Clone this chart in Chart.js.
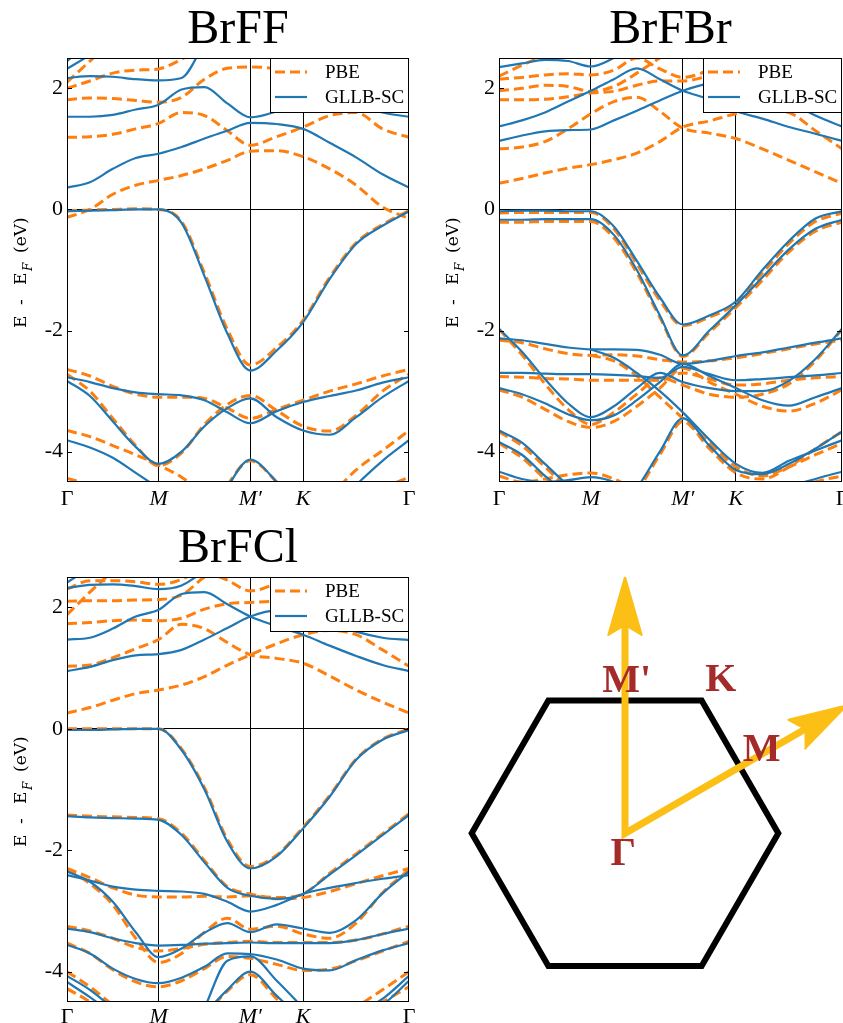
<!DOCTYPE html>
<html lang="en">
<head>
<meta charset="UTF-8">
<title>BrFX band structures</title>
<script src="https://cdn.jsdelivr.net/npm/chart.js"></script>
<style>
  body { margin: 0; background: #fff; width: 843px; height: 1023px; overflow: hidden; position: relative; }
  .panel { position: absolute; }
  canvas { display: block; }
</style>
</head>
<body>
<div class="panel" style="left:0;top:0;width:420px;height:512px"><canvas id="brff" width="420" height="512"></canvas></div>
<div class="panel" style="left:420px;top:0;width:423px;height:512px"><canvas id="brfbr" width="423" height="512"></canvas></div>
<div class="panel" style="left:0;top:519px;width:420px;height:504px"><canvas id="brfcl" width="420" height="504"></canvas></div>
<div class="panel" style="left:430px;top:560px;width:413px;height:463px"><canvas id="bz" width="413" height="463"></canvas></div>

<script>
const SERIF = "'Liberation Serif', 'Times New Roman', serif";
const LABEL_SERIF = "'DejaVu Serif', serif";
const ORANGE = '#ff7f0e';
const BLUE = '#1f77b4';

// k path: Γ - M - M' - K - Γ
const K_POINTS = [0, 0.25, 0.5, 0.75, 1, 1.25, 1.5, 1.75, 2, 2.289, 2.577, 2.866, 3.155, 3.443, 3.732];
const X_TICKS = [0, 1, 2, 2.577, 3.732];
const X_LABELS = ['Γ', 'M', 'M′', 'K', 'Γ'];
const Y_TICKS = [-4, -2, 0, 2];
const SERIES = ['PBE', 'GLLB-SC'];

// BrFF
const BRFF_PBE = [
  [-0.13, 0.00, 0.25, 0.40, 0.48, 0.56, 0.67, 0.81, 0.96, 0.97, 0.87, 0.67, 0.40, 0.04, -0.15],
  [1.19, 1.20, 1.24, 1.33, 1.42, 1.60, 1.55, 1.30, 1.06, 1.20, 1.36, 1.55, 1.60, 1.33, 1.19],
  [1.81, 1.84, 1.83, 1.80, 1.77, 1.85, 2.15, 2.33, 2.35, 2.32, 2.20, 2.05, 1.92, 1.85, 1.81],
  [2.00, 2.12, 2.25, 2.30, 2.32, 2.48, 2.70],
  [2.10, 2.45, 2.80],
  [-0.02, -0.01, 0, 0.01, 0, -0.20, -1.05, -1.98, -2.57, -2.28, -1.83, -1.12, -0.55, -0.25, -0.02],
  [-2.64, -2.75, -2.92, -3.05, -3.10, -3.10, -3.12, -3.28, -3.45, -3.30, -3.15, -3.00, -2.88, -2.75, -2.64],
  [-2.72, -3.00, -3.45, -3.90, -4.23, -4.02, -3.55, -3.22, -3.07, -3.32, -3.58, -3.66, -3.40, -3.00, -2.72],
  [-3.65, -3.75, -3.90, -4.05, -4.22, -4.42, -4.70, null, null, null, null, -4.75, -4.30, -3.98, -3.65],
  [null, null, null, null, null, null, -5.2, -4.55, -4.15, -4.50, -5.0],
  [-4.44, -4.55, -4.75, null, null, null, null, null, null, null, null, null, null, -4.60, -4.42]
];
const BRFF_GLLB = [
  [0.36, 0.45, 0.67, 0.85, 0.92, 1.03, 1.17, 1.30, 1.43, 1.41, 1.33, 1.10, 0.86, 0.58, 0.36],
  [1.53, 1.53, 1.56, 1.65, 1.73, 1.98, 2.02, 1.75, 1.52, 1.62, 1.80, 1.85, 1.75, 1.60, 1.53],
  [2.17, 2.20, 2.19, 2.15, 2.13, 2.17, 2.75],
  [2.32, 2.55, 2.80],
  [2.45, 2.75],
  [-0.03, -0.02, -0.01, 0, 0, -0.22, -1.10, -2.05, -2.66, -2.33, -1.86, -1.15, -0.57, -0.27, -0.03],
  [-2.77, -2.85, -2.95, -3.02, -3.05, -3.07, -3.15, -3.35, -3.53, -3.33, -3.18, -3.08, -2.99, -2.86, -2.77],
  [-2.83, -3.08, -3.50, -3.92, -4.20, -4.00, -3.58, -3.28, -3.12, -3.43, -3.65, -3.72, -3.43, -3.10, -2.83],
  [-3.81, -3.93, -4.10, -4.35, -4.60, -4.85, null, null, null, null, null, -5.0, -4.55, -4.15, -3.81],
  [null, null, null, null, null, null, -5.2, -4.58, -4.13, -4.50, -5.0],
  [-4.58, -4.75, -5.0, null, null, null, null, null, null, null, null, null, null, -4.75, -4.58]
];

// BrFBr
const BRFBR_PBE = [
  [0.43, 0.51, 0.60, 0.68, 0.74, 0.82, 0.93, 1.12, 1.36, 1.46, 1.58, 1.65, 1.60, 1.30, 1.00],
  [1.00, 1.03, 1.12, 1.33, 1.58, 1.78, 1.85, 1.62, 1.34, 1.26, 1.17, 1.00, 0.81, 0.62, 0.43],
  [1.81, 1.81, 1.82, 1.86, 1.92, 1.95, 2.05, 2.12, 2.12, 2.20, 2.25, 2.20, 2.10, 1.95, 1.81],
  [1.96, 2.00, 2.05, 2.03, 1.95, 2.03, 2.25, 2.50, 2.70],
  [2.15, 2.18, 2.22, 2.24, 2.22, 2.30, 2.50, 2.32, 2.18, 2.30, 2.50],
  [2.20, 2.38, 2.55],
  [-0.06, -0.05, -0.05, -0.05, -0.05, -0.32, -0.90, -1.50, -1.92, -1.78, -1.55, -1.05, -0.56, -0.20, -0.06],
  [-0.21, -0.21, -0.20, -0.20, -0.20, -0.47, -1.05, -1.78, -2.43, -2.03, -1.62, -1.17, -0.70, -0.36, -0.21],
  [-2.16, -2.20, -2.30, -2.38, -2.41, -2.40, -2.42, -2.48, -2.52, -2.50, -2.45, -2.38, -2.30, -2.22, -2.16],
  [-1.98, -2.40, -2.88, -3.30, -3.55, -3.35, -3.05, -2.78, -2.90, -3.05, -3.10, -3.05, -2.88, -2.50, -1.98],
  [-2.76, -2.77, -2.79, -2.80, -2.82, -2.82, -2.82, -2.82, -2.70, -2.80, -2.90, -2.88, -2.82, -2.78, -2.76],
  [-2.98, -3.10, -3.30, -3.50, -3.60, -3.50, -3.25, -2.95, -2.62, -2.85, -3.05, -3.25, -3.33, -3.20, -2.98],
  [-3.67, -3.90, -4.25, -4.60, -4.85],
  [-3.86, -4.10, -4.45, -4.75],
  [-4.40, -4.50, -4.45, -4.38, -4.35, -4.45, -4.65],
  [null, null, null, null, null, -5.0, -4.65, -4.05, -3.50, -3.95, -4.35, -4.45, -4.25, -3.95, -3.67],
  [null, null, null, null, -2.41, -2.50, -2.75, -3.10, -3.45, -3.85, -4.25, -4.40, -4.25, -4.05, -3.86],
  [null, null, null, null, null, null, null, null, null, null, null, -5.0, -4.70, -4.50, -4.40]
];
const BRFBR_GLLB = [
  [1.13, 1.22, 1.29, 1.31, 1.32, 1.47, 1.63, 1.80, 1.96, 2.08, 2.12, 1.98, 1.78, 1.55, 1.37],
  [1.37, 1.47, 1.60, 1.78, 1.96, 2.15, 2.33, 2.15, 1.96, 1.82, 1.62, 1.50, 1.36, 1.25, 1.13],
  [2.35, 2.41, 2.47, 2.45, 2.36, 2.50, 2.70],
  [-0.03, -0.02, -0.02, -0.03, -0.03, -0.28, -0.85, -1.45, -1.90, -1.75, -1.52, -1.00, -0.52, -0.15, -0.03],
  [-0.17, -0.17, -0.16, -0.16, -0.16, -0.42, -1.00, -1.75, -2.41, -2.00, -1.58, -1.12, -0.66, -0.32, -0.17],
  [-2.13, -2.16, -2.22, -2.28, -2.31, -2.31, -2.32, -2.40, -2.55, -2.50, -2.42, -2.36, -2.28, -2.20, -2.13],
  [-1.97, -2.35, -2.80, -3.20, -3.43, -3.25, -2.95, -2.70, -2.85, -2.95, -3.00, -3.00, -2.83, -2.47, -1.97],
  [-2.70, -2.70, -2.71, -2.72, -2.72, -2.73, -2.75, -2.78, -2.60, -2.72, -2.82, -2.80, -2.77, -2.74, -2.70],
  [-2.95, -3.05, -3.20, -3.38, -3.48, -3.40, -3.15, -2.85, -2.55, -2.75, -2.95, -3.15, -3.24, -3.10, -2.95],
  [-3.65, -3.85, -4.20, -4.55, -4.80],
  [-3.84, -4.05, -4.40, -4.70],
  [-4.33, -4.45, -4.50, -4.47, -4.42, -4.50, -4.70],
  [null, null, null, null, null, -5.0, -4.60, -4.00, -3.45, -3.90, -4.30, -4.37, -4.20, -3.95, -3.67],
  [null, null, null, null, -2.31, -2.45, -2.70, -3.00, -3.35, -3.80, -4.20, -4.35, -4.15, -3.98, -3.81],
  [null, null, null, null, null, null, null, null, null, null, null, -4.90, -4.60, -4.45, -4.33]
];

// BrFCl
const BRFCL_PBE = [
  [0.26, 0.35, 0.47, 0.58, 0.64, 0.72, 0.86, 1.05, 1.22, 1.40, 1.55, 1.62, 1.55, 1.30, 1.03],
  [1.03, 1.05, 1.17, 1.32, 1.47, 1.72, 1.65, 1.42, 1.22, 1.16, 1.08, 0.87, 0.64, 0.44, 0.26],
  [1.73, 1.75, 1.78, 1.79, 1.78, 1.82, 1.97, 2.06, 2.08, 2.10, 2.00, 1.90, 1.82, 1.76, 1.73],
  [2.10, 2.11, 2.11, 2.12, 2.13, 2.20, 2.50, 2.70],
  [1.88, 2.25, 2.60],
  [2.30, 2.44, 2.44, 2.42, 2.38, 2.46, 2.70],
  [null, null, null, null, null, null, 2.60, 2.45, 2.27, 2.40, 2.60],
  [0, 0, 0, 0, 0, -0.33, -0.97, -1.82, -2.27, -2.08, -1.62, -1.10, -0.50, -0.17, 0],
  [-1.42, -1.44, -1.45, -1.46, -1.48, -1.72, -2.17, -2.60, -2.72, -2.78, -2.72, -2.38, -2.06, -1.73, -1.40],
  [-2.30, -2.45, -2.62, -2.74, -2.77, -2.77, -2.76, -2.77, -2.75, -2.80, -2.78, -2.68, -2.55, -2.42, -2.30],
  [-2.32, -2.55, -2.90, -3.45, -3.85, -3.70, -3.35, -3.12, -3.30, -3.25, -3.38, -3.45, -3.20, -2.70, -2.32],
  [-3.25, -3.33, -3.45, -3.60, -3.66, -3.62, -3.55, -3.52, -3.50, -3.52, -3.52, -3.52, -3.48, -3.38, -3.25],
  [-3.53, -3.70, -3.97, -4.17, -4.25, -4.15, -3.95, -3.75, -3.78, -3.88, -3.98, -3.96, -3.82, -3.66, -3.50],
  [-4.00, -4.25, -4.55],
  [-4.28, -4.50, -4.80],
  [null, null, null, null, null, null, -4.72, -4.32, -4.05, -4.45, -4.85],
  [null, null, null, null, null, null, null, null, null, null, null, -5.0, -4.60, -4.30, -4.00],
  [null, null, null, null, null, null, null, null, null, null, null, -5.1, -4.75, -4.50, -4.25]
];
const BRFCL_GLLB = [
  [0.95, 1.02, 1.13, 1.21, 1.23, 1.30, 1.47, 1.66, 1.85, 1.95, 1.95, 1.75, 1.60, 1.50, 1.46],
  [1.47, 1.50, 1.65, 1.85, 1.96, 2.22, 2.25, 2.05, 1.85, 1.69, 1.55, 1.37, 1.20, 1.05, 0.95],
  [2.32, 2.37, 2.38, 2.35, 2.30, 2.36, 2.60],
  [2.41, 2.65],
  [-0.02, -0.02, -0.01, 0, 0, -0.35, -1.00, -1.86, -2.30, -2.10, -1.64, -1.12, -0.51, -0.18, -0.02],
  [-1.44, -1.46, -1.47, -1.48, -1.50, -1.75, -2.20, -2.62, -2.75, -2.80, -2.72, -2.40, -2.08, -1.75, -1.42],
  [-2.41, -2.50, -2.60, -2.65, -2.67, -2.68, -2.72, -2.85, -3.01, -2.90, -2.72, -2.62, -2.54, -2.47, -2.41],
  [-2.35, -2.52, -2.85, -3.35, -3.76, -3.62, -3.36, -3.20, -3.35, -3.22, -3.29, -3.36, -3.15, -2.71, -2.35],
  [-3.29, -3.35, -3.45, -3.53, -3.57, -3.56, -3.54, -3.53, -3.52, -3.53, -3.53, -3.53, -3.48, -3.38, -3.29],
  [-3.56, -3.70, -3.95, -4.12, -4.19, -4.10, -3.92, -3.70, -3.71, -3.80, -3.95, -3.98, -3.81, -3.65, -3.53],
  [-4.07, -4.30, -4.60],
  [-4.17, -4.42, -4.70],
  [null, null, null, null, null, null, -4.70, -4.30, -4.00, -4.40, -4.80],
  [null, null, null, null, null, -5.4, -4.60, -3.82, -3.75, -4.15, -4.60],
  [null, null, null, null, null, null, null, null, null, null, null, -5.0, -4.70, -4.45, -4.07],
  [null, null, null, null, null, null, null, null, null, null, null, -5.1, -4.80, -4.55, -4.15]
];

// Brillouin zone sketch (units of the zone radius)
const BZ_HEX_X = [-1, -0.5, 0.5, 1, 0.5, -0.5, -1, -0.5];
const BZ_HEX_Y = [0, 0.866, 0.866, 0, -0.866, -0.866, 0, 0.866];
const BZ_PATH_X = [0, 0, 1.21];
const BZ_PATH_Y = [1.40, 0, 0.70];
const BZ_HEAD1_X = [0, 0.109, 0, -0.109, 0];
const BZ_HEAD1_Y = [1.672, 1.294, 1.36, 1.294, 1.672];
const BZ_HEAD2_X = [1.448, 1.175, 1.178, 1.066, 1.448];
const BZ_HEAD2_Y = [0.836, 0.553, 0.68, 0.741, 0.836];
const BZ_LABELS = ["M'", 'K', 'M', 'Γ'];
const BZ_LABEL_X = [0.011, 0.625, 0.892, -0.011];
const BZ_LABEL_Y = [0.99, 0.995, 0.538, -0.136];

const YLABEL_PARTS = [
  { text: 'E', at: 0 }, { text: '-', at: 23 }, { text: 'E', at: 43 },
  { text: 'F', at: 57, sub: true }, { text: '(eV)', at: 75 }
];

function bandSets(bands, color, width, dash, order) {
  return bands.map(band => ({
    data: band.map((e, i) => ({ x: K_POINTS[i], y: e })),
    borderColor: color,
    borderWidth: width,
    borderDash: dash,
    pointRadius: 0,
    cubicInterpolationMode: 'monotone',
    fill: false,
    order: order
  }));
}

const bandDecor = {
  id: 'bandDecor',
  afterDatasetsDraw(chart) {
    const { ctx, chartArea: a } = chart;
    const y = chart.scales.y;
    ctx.save();
    ctx.strokeStyle = '#000';
    ctx.lineWidth = 1;
    // inward ticks
    Y_TICKS.forEach(v => {
      const py = Math.round(y.getPixelForValue(v)) + 0.5;
      ctx.beginPath();
      ctx.moveTo(a.left, py); ctx.lineTo(a.left + 5, py);
      ctx.moveTo(a.right - 5, py); ctx.lineTo(a.right, py);
      ctx.stroke();
    });
    ctx.strokeRect(a.left + 0.5, a.top + 0.5, a.right - a.left - 1, a.bottom - a.top - 1);

    // legend box in the upper right corner
    const left = a.right - 139, top = a.top;
    ctx.fillStyle = '#fff';
    ctx.fillRect(left, top, 139, 54);
    ctx.strokeRect(left + 0.5, top + 0.5, 138, 54);
    [[ORANGE, 3, [10, 5]], [BLUE, 2.2, []]].forEach((s, i) => {
      const ly = top + 14 + i * 25;
      ctx.beginPath();
      ctx.strokeStyle = s[0];
      ctx.lineWidth = s[1];
      ctx.setLineDash(s[2]);
      ctx.moveTo(left + 5, ly); ctx.lineTo(left + 37, ly);
      ctx.stroke();
      ctx.setLineDash([]);
      ctx.fillStyle = '#000';
      ctx.font = `19px ${SERIF}`;
      ctx.textBaseline = 'middle';
      ctx.textAlign = 'left';
      ctx.fillText(SERIES[i], left + 55, ly + 1);
    });
    ctx.restore();
  },
  afterDraw(chart) {
    const { ctx, chartArea: a } = chart;
    ctx.save();
    ctx.translate(a.left - 41, a.top + 270);
    ctx.rotate(-Math.PI / 2);
    ctx.fillStyle = '#000';
    ctx.textBaseline = 'alphabetic';
    ctx.textAlign = 'left';
    YLABEL_PARTS.forEach(p => {
      ctx.font = p.sub ? `italic 12px ${LABEL_SERIF}` : `17px ${LABEL_SERIF}`;
      ctx.fillText(p.text, p.at, p.sub ? 6 : 0);
    });
    ctx.restore();
  }
};

function makeBandChart(id, title, pbe, gllb, cfg) {
  return new Chart(document.getElementById(id), {
    type: 'line',
    data: {
      datasets: bandSets(gllb, BLUE, 2.2, [], 0).concat(bandSets(pbe, ORANGE, 3, [10, 5], 1))
    },
    options: {
      responsive: false,
      devicePixelRatio: 1,
      animation: false,
      events: [],
      layout: { padding: { left: 0, right: cfg.padRight, top: 0, bottom: 0 } },
      plugins: {
        legend: { display: false },
        tooltip: { enabled: false },
        title: {
          display: true,
          text: title,
          fullSize: false,
          color: '#000',
          font: { family: SERIF, size: 48, weight: 'normal', lineHeight: 56 / 48 },
          padding: { top: 2, bottom: 0 }
        }
      },
      scales: {
        x: {
          type: 'linear',
          min: 0,
          max: 3.732,
          afterBuildTicks: s => { s.ticks = X_TICKS.map(v => ({ value: v })); },
          afterFit: s => { s.height = cfg.xAxisHeight; s.paddingLeft = 0; s.paddingRight = 0; },
          ticks: {
            autoSkip: false,
            maxRotation: 0,
            padding: cfg.xPad,
            color: '#000',
            callback: (v, i) => X_LABELS[i],
            font: c => ({ family: SERIF, size: 22, style: X_LABELS[c.index] === 'Γ' ? 'normal' : 'italic' })
          },
          grid: {
            drawTicks: false,
            lineWidth: 1,
            color: c => (c.tick && c.tick.value > 0 && c.tick.value < 3.7) ? '#000' : 'rgba(0,0,0,0)'
          },
          border: { display: false }
        },
        y: {
          type: 'linear',
          min: -4.5,
          max: 2.5,
          afterBuildTicks: s => { s.ticks = Y_TICKS.map(v => ({ value: v })); },
          afterFit: s => { s.width = cfg.yAxisWidth; s.paddingTop = 0; s.paddingBottom = 0; },
          ticks: {
            padding: 4,
            color: '#000',
            font: { family: SERIF, size: 22 },
            callback: v => String(v)
          },
          grid: {
            drawTicks: false,
            lineWidth: 1,
            color: c => (c.tick && c.tick.value === 0) ? '#000' : 'rgba(0,0,0,0)'
          },
          border: { display: false }
        }
      }
    },
    plugins: [bandDecor]
  });
}

makeBandChart('brff', 'BrFF', BRFF_PBE, BRFF_GLLB, { yAxisWidth: 67, xAxisHeight: 30, padRight: 11, xPad: 4 });
makeBandChart('brfbr', 'BrFBr', BRFBR_PBE, BRFBR_GLLB, { yAxisWidth: 79, xAxisHeight: 30, padRight: 1, xPad: 4 });
makeBandChart('brfcl', 'BrFCl', BRFCL_PBE, BRFCL_GLLB, { yAxisWidth: 67, xAxisHeight: 21, padRight: 11, xPad: 2 });

// Brillouin zone
const YELLOW = '#fbbf16';
function xy(xs, ys) { return xs.map((x, i) => ({ x: x, y: ys[i] })); }

const bzLabels = {
  id: 'bzLabels',
  afterDatasetsDraw(chart) {
    const { ctx } = chart;
    const sx = chart.scales.x, sy = chart.scales.y;
    ctx.save();
    ctx.fillStyle = '#a52a2a';
    ctx.font = `bold 40px ${SERIF}`;
    ctx.textAlign = 'center';
    ctx.textBaseline = 'middle';
    BZ_LABELS.forEach((t, i) => {
      ctx.fillText(t, sx.getPixelForValue(BZ_LABEL_X[i]), sy.getPixelForValue(BZ_LABEL_Y[i]));
    });
    ctx.restore();
  }
};

new Chart(document.getElementById('bz'), {
  type: 'scatter',
  data: {
    datasets: [
      { data: xy(BZ_HEX_X, BZ_HEX_Y), showLine: true, borderColor: '#000', borderWidth: 6,
        borderJoinStyle: 'miter', pointRadius: 0, tension: 0, order: 2 },
      { data: xy(BZ_PATH_X, BZ_PATH_Y), showLine: true, borderColor: YELLOW, borderWidth: 7,
        borderJoinStyle: 'miter', pointRadius: 0, tension: 0, order: 1 },
      { data: xy(BZ_HEAD1_X, BZ_HEAD1_Y), showLine: true, borderColor: YELLOW, backgroundColor: YELLOW,
        borderWidth: 2, borderJoinStyle: 'round', fill: 'shape', pointRadius: 0, tension: 0, order: 0 },
      { data: xy(BZ_HEAD2_X, BZ_HEAD2_Y), showLine: true, borderColor: YELLOW, backgroundColor: YELLOW,
        borderWidth: 2, borderJoinStyle: 'round', fill: 'shape', pointRadius: 0, tension: 0, order: 0 }
    ]
  },
  options: {
    responsive: false,
    devicePixelRatio: 1,
    animation: false,
    events: [],
    layout: { padding: 0 },
    plugins: { legend: { display: false }, tooltip: { enabled: false }, title: { display: false } },
    scales: {
      x: { type: 'linear', display: false, min: -1.272, max: 1.422 },
      y: { type: 'linear', display: false, min: -1.237, max: 1.783 }
    }
  },
  plugins: [bzLabels]
});
</script>
</body>
</html>
